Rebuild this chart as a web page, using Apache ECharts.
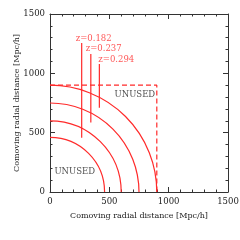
<!DOCTYPE html>
<html><head><meta charset="utf-8">
<script src="https://cdn.jsdelivr.net/npm/echarts@6/dist/echarts.min.js"></script>
<style>html,body{margin:0;padding:0;background:#fff}#c{width:240px;height:240px}</style>
</head><body><div id="c"></div>
<script>
const axisTicks = [0, 500, 1000, 1500];
const radii = [460, 600, 750, 900];
const zLabels = ['z=0.182', 'z=0.237', 'z=0.294'];
const zLineX = [267, 344, 416];
const zLineBottom = [458, 585, 711];
const zLineTop = [1256, 1163, 1079];
const zLabelPos = [[217, 1292], [301, 1205], [407, 1115]];
const boxEdge = [900];
const unusedText = ['UNUSED', 'UNUSED'];
const unusedPos = [[715, 823], [208, 172]];

const RED = '#ff2a2a';
const FONT = 'DejaVu Serif';
const chart = echarts.init(document.getElementById('c'), null, {renderer: 'canvas'});

function axisCommon(show, pos) {
  return {
    type: 'value', min: 0, max: 1500, interval: 500, position: pos,
    axisLine: {show: true, onZero: false, lineStyle: {color: '#333', width: 1}},
    axisTick: {show: true, inside: true, length: 5, lineStyle: {color: '#333'}},
    minorTick: {show: true, splitNumber: 5, length: 2.5, lineStyle: {color: '#333'}},
    splitLine: {show: false},
    axisLabel: {show: show, color: '#222', fontFamily: FONT, fontSize: 8.5, margin: 5,
      formatter: v => String(v)}
  };
}

const xBottom = Object.assign(axisCommon(true, 'bottom'), {
  name: 'Comoving radial distance [Mpc/h]', nameLocation: 'middle', nameGap: 20, nameMoveOverlap: false,
  nameTextStyle: {color: '#222', fontFamily: FONT, fontSize: 8}
});
const yLeft = Object.assign(axisCommon(true, 'left'), {
  name: 'Comoving radial distance [Mpc/h]', nameLocation: 'middle', nameGap: 29, nameMoveOverlap: false,
  nameTextStyle: {color: '#222', fontFamily: FONT, fontSize: 8}
});

const series = [];
series.push({
  type: 'custom', xAxisIndex: 0, yAxisIndex: 0, clip: true,
  data: radii.map(r => [r]),
  renderItem: function (params, api) {
    const c = api.coord([0, 0]);
    const rpx = api.size([api.value(0), 0])[0];
    return {type: 'arc', shape: {cx: c[0], cy: c[1], r: rpx, startAngle: -Math.PI / 2, endAngle: 0, clockwise: true},
      style: {stroke: RED, lineWidth: 1.2, fill: null}};
  }
});
zLineX.forEach((x, i) => {
  series.push({type: 'line', xAxisIndex: 0, yAxisIndex: 0, symbol: 'none', silent: true,
    lineStyle: {color: RED, width: 1.2},
    data: [[x, zLineBottom[i]], [x, zLineTop[i]]]
  });
});
series.push({type: 'scatter', xAxisIndex: 0, yAxisIndex: 0, symbolSize: 0, silent: true,
  data: zLabelPos.map((p, i) => ({value: p, name: zLabels[i]})),
  label: {show: true, formatter: p => p.name, position: 'inside', align: 'left', verticalAlign: 'middle',
    color: RED, fontFamily: FONT, fontSize: 8.5}
});
series.push({type: 'line', xAxisIndex: 0, yAxisIndex: 0, symbol: 'none', silent: true,
  lineStyle: {color: RED, width: 1.2, type: [5, 3]},
  data: [[0, boxEdge[0]], [boxEdge[0], boxEdge[0]], [boxEdge[0], 0]]
});
series.push({type: 'scatter', xAxisIndex: 0, yAxisIndex: 0, symbolSize: 0, silent: true,
  data: unusedPos.map((p, i) => ({value: p, name: unusedText[i]})),
  label: {show: true, formatter: p => p.name, position: 'inside', color: '#222', fontFamily: FONT, fontSize: 8.5}
});

chart.setOption({
  animation: false,
  grid: {left: 50, right: 12, top: 14, bottom: 48, outerBoundsMode: 'none', containLabel: false},
  xAxis: [xBottom, axisCommon(false, 'top')],
  yAxis: [yLeft, axisCommon(false, 'right')],
  series: series
});
</script></body></html>
